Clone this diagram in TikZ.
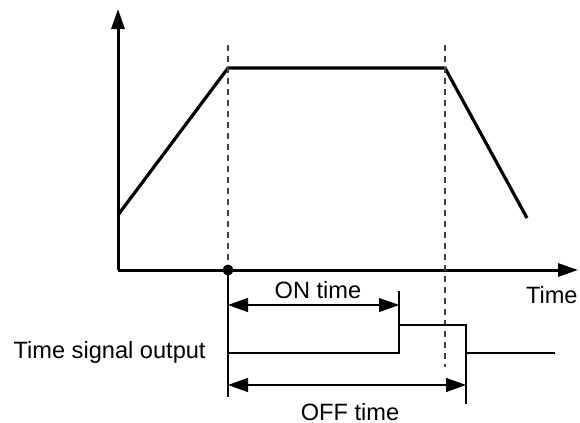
\documentclass[tikz,border=0pt]{standalone}
\usepackage{fontspec}
\setmainfont{Liberation Sans}
\usepackage{tikz}
\usetikzlibrary{arrows.meta,positioning}
\tikzset{
  axisline/.style={line width=1.5pt,-{Triangle[length=10pt,width=6.5pt]}},
  curveline/.style={line width=1.6pt,line join=miter},
  guideline/.style={line width=0.7pt,dash pattern=on 3pt off 2.5pt,black!75},
  thinline/.style={line width=0.7pt},
  dimline/.style={line width=0.7pt,{Triangle[length=10pt,width=7pt]}-{Triangle[length=10pt,width=7pt]}},
  signalline/.style={line width=1.2pt},
  lbl/.style={inner sep=0pt,font=\fontsize{11.8}{14}\selectfont}
}
\begin{document}
\begin{tikzpicture}[x=0.5pt,y=-0.5pt]
\useasboundingbox (0,0) rectangle (580,423);
% axes
\coordinate (org) at (118,270);
\coordinate (ytop) at (118,9);
\coordinate (xend) at (578,270);
\draw[axisline] (org)--(ytop);
\draw[axisline] (org)--(xend);
\node[lbl,anchor=north east] (timelbl) at (578,286) {Time};
% speed profile
\coordinate (p0) at (118,215);
\coordinate (p1) at (228,68);
\coordinate (p2) at (445,68);
\coordinate (p3) at (527,218);
\draw[curveline] (p0)--(p1)--(p2)--(p3);
% guides
\coordinate (g1) at (228,45);
\coordinate (g2) at (445,45);
\coordinate (g2b) at (445,367);
\coordinate (start) at (228,270);
\draw[guideline] (g1)--(start);
\draw[guideline] (g2)--(g2b);
\fill (start) circle (5.5);
% time signal
\coordinate (s0) at (228,353);
\coordinate (s1) at (399,353);
\coordinate (s2) at (399,325);
\coordinate (s3) at (466,325);
\coordinate (s4) at (466,353);
\coordinate (s5) at (555,353);
\draw[signalline] (s0)--(s1)--(s2)--(s3)--(s4)--(s5);
\node[lbl,anchor=east] (siglbl) at (206,352) {Time signal output};
% dimension lines
\coordinate (v1) at (228,397);
\coordinate (t1) at (399,291);
\coordinate (t2) at (466,404);
\draw[thinline] (start)--(v1);
\draw[thinline] (t1)--(s2);
\draw[thinline] (s3)--(t2);
\coordinate (on0) at (228,305);
\coordinate (on1) at (399,305);
\coordinate (off0) at (228,385);
\coordinate (off1) at (466,385);
\draw[dimline] (on0)--(on1);
\draw[dimline] (off0)--(off1);
\node[lbl] (onlbl) at (318,290) {ON time};
\node[lbl] (offlbl) at (350,412) {OFF time};
\end{tikzpicture}
\end{document}
